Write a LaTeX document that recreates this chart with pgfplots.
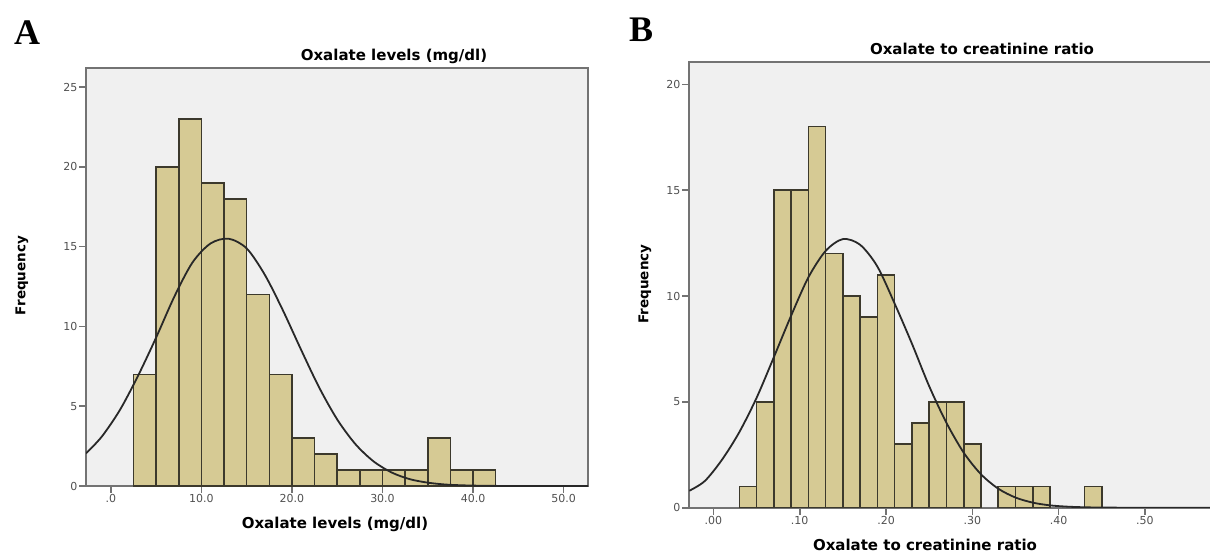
\documentclass[border=0pt]{standalone}
\usepackage{fontspec}
\setmainfont{DejaVu Sans}
\newfontfamily\letterfont{Liberation Serif}
\usepackage{pgfplots}
\pgfplotsset{compat=1.18}

\definecolor{bggray}{RGB}{240,240,240}
\definecolor{framegray}{RGB}{115,115,115}
\definecolor{bartan}{RGB}{214,202,148}
\definecolor{baredge}{RGB}{60,57,44}
\definecolor{ticktext}{RGB}{80,80,80}
\definecolor{curve}{RGB}{40,40,40}

\newcommand\lblfont{\fontsize{15}{18}\selectfont\bfseries}

\pgfplotsset{spss/.style={
  scale only axis, anchor=south west,
  ymin=0,
  axis background/.style={fill=bggray},
  axis line style={framegray, line width=1.8pt},
  tick align=outside, xtick pos=bottom, ytick pos=left,
  major tick length=7pt,
  every tick/.style={framegray, line width=1.6pt},
  tick label style={font=\fontsize{11}{13}\selectfont, text=ticktext, inner sep=1.5pt},
}}

\begin{document}
\begin{tikzpicture}
\useasboundingbox (0,0) rectangle (1210pt,555pt);

% ---- panel A
\begin{axis}[spss, at={(86pt,69pt)}, width=502pt, height=418pt,
  xmin=-2.75, xmax=52.7, ymax=26.2,
  xtick={0,10,20,30,40,50}, xticklabels={.0,10.0,20.0,30.0,40.0,50.0},
  ytick={0,5,10,15,20,25}, yticklabels={0,5,10,15,20,25},
]
\addplot[ybar interval, fill=bartan, draw=baredge, line width=1.6pt] coordinates {
(2.5,7) (5,20) (7.5,23) (10,19) (12.5,18) (15,12) (17.5,7) (20,3)
(22.5,2) (25,1) (27.5,1) (30,1) (32.5,1) (35,3) (37.5,1) (40,1) (42.5,0)};
\addplot[smooth, curve, line width=1.8pt] coordinates {
(-2.75,2.04) (-1,3.10) (1,4.77) (3,6.91) (5,9.31) (7,11.86) (9,14.00)
(11,15.20) (13,15.50) (15,14.89) (17,13.24) (19,11.01) (21,8.55)
(23,6.18) (25,4.17) (27,2.63) (29,1.55) (31,0.85) (33,0.43) (35,0.21)
(37,0.09) (39,0.04) (41,0.015) (43,0.005) (45,0.002) (47,0) (52.7,0)};
\end{axis}

% ---- panel B
\begin{axis}[spss, at={(689pt,47.3pt)}, width=523pt, height=446pt,
  xmin=-0.0283, xmax=0.5777, ymax=21.07,
  xtick={0,0.1,0.2,0.3,0.4,0.5}, xticklabels={.00,.10,.20,.30,.40,.50},
  ytick={0,5,10,15,20}, yticklabels={0,5,10,15,20},
]
\addplot[ybar interval, fill=bartan, draw=baredge, line width=1.6pt] coordinates {
(0.03,1) (0.05,5) (0.07,15) (0.09,15) (0.11,18) (0.13,12) (0.15,10)
(0.17,9) (0.19,11) (0.21,3) (0.23,4) (0.25,5) (0.27,5) (0.29,3) (0.31,0)};
\addplot[ybar interval, fill=bartan, draw=baredge, line width=1.6pt] coordinates {
(0.33,1) (0.35,1) (0.37,1) (0.39,0)};
\addplot[ybar interval, fill=bartan, draw=baredge, line width=1.6pt] coordinates {
(0.43,1) (0.45,0)};
\addplot[smooth, curve, line width=1.8pt] coordinates {
(-0.028,0.80) (-0.01,1.26) (0.01,2.27) (0.03,3.57) (0.05,5.19) (0.07,7.11)
(0.09,9.07) (0.11,10.88) (0.13,12.13) (0.15,12.69) (0.17,12.42) (0.19,11.39)
(0.21,9.64) (0.23,7.75) (0.25,5.74) (0.27,4.01) (0.29,2.60) (0.31,1.58)
(0.33,0.90) (0.35,0.48) (0.37,0.24) (0.39,0.11) (0.41,0.05) (0.43,0.02)
(0.45,0.007) (0.47,0.002) (0.49,0) (0.578,0)};
\end{axis}

% ---- labels
\node[font=\letterfont\bfseries\fontsize{36}{36}\selectfont] at (27pt,522pt) {A};
\node[font=\letterfont\bfseries\fontsize{36}{36}\selectfont] at (641pt,525pt) {B};
\node[font=\lblfont] at (394pt,499pt) {Oxalate levels (mg/dl)};
\node[font=\lblfont] at (982pt,506pt) {Oxalate to creatinine ratio};
\node[font=\lblfont] at (335pt,31pt) {Oxalate levels (mg/dl)};
\node[font=\lblfont] at (925pt,10pt) {Oxalate to creatinine ratio};
\node[font=\fontsize{13.5}{15}\selectfont\bfseries, rotate=90] at (22pt,279.5pt) {Frequency};
\node[font=\fontsize{13.5}{15}\selectfont\bfseries, rotate=90] at (645pt,271pt) {Frequency};
\end{tikzpicture}
\end{document}
